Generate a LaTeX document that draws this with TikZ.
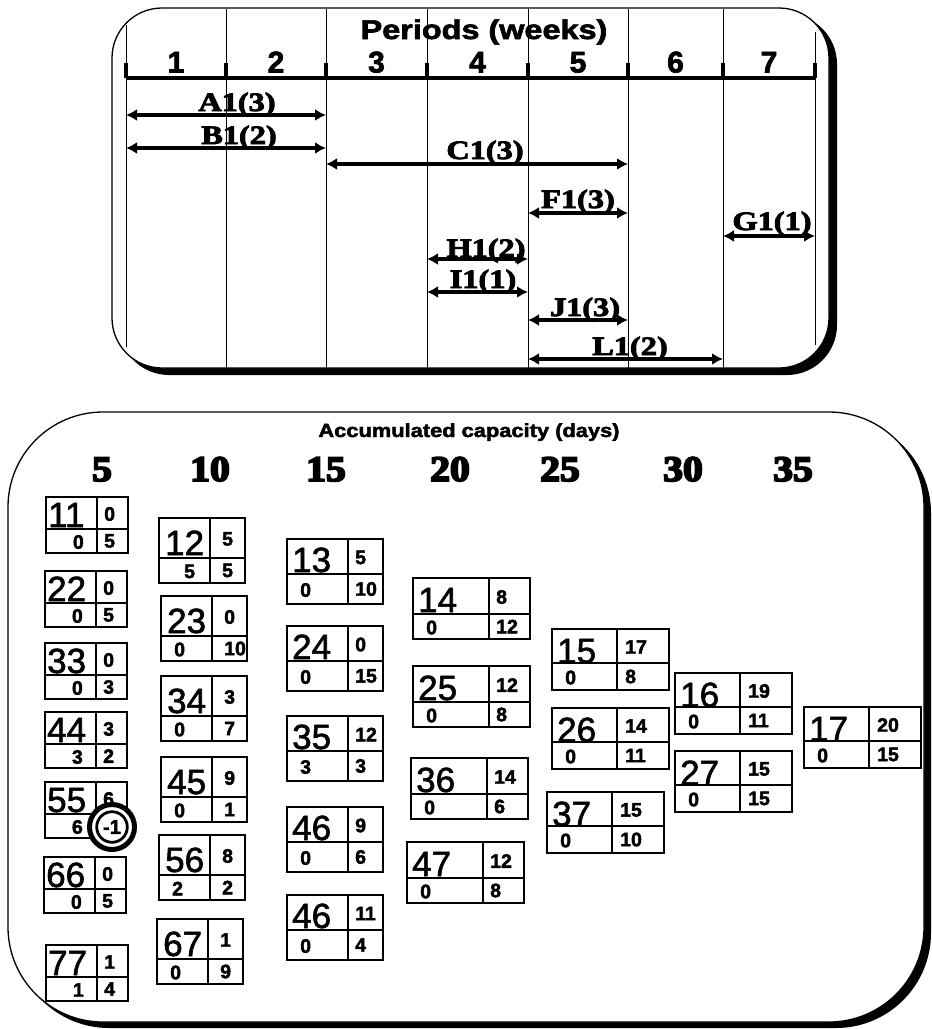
\documentclass[tikz,border=0pt]{standalone}
\usepackage{fontspec}
\newfontfamily\arialfont{Liberation Sans}[FakeBold=1.6]
\newfontfamily\arialbold{Liberation Sans Bold}[FakeBold=2.2]
\newfontfamily\timesbold{Liberation Serif Bold}[FakeBold=3]
\newfontfamily\timesheavy{Liberation Serif Bold}[FakeBold=5]
\usetikzlibrary{calc,arrows.meta}

\tikzset{
  frame/.style={draw=black, fill=white, line width=1.3pt},
  grid/.style={line width=1pt},
  axis/.style={line width=4pt},
  tick/.style={line width=3.2pt},
  task/.style={{Latex[length=11pt,width=12pt]}-{Latex[length=11pt,width=12pt]}, line width=3.4pt},
  tasklbl/.style={font=\timesbold\fontsize{26.5}{26.5}\selectfont, inner sep=0pt, anchor=base, xscale=1.22},
  weeknum/.style={font=\arialbold\fontsize{30}{30}\selectfont, inner sep=0pt, anchor=base},
  title/.style={font=\arialbold\fontsize{27}{27}\selectfont, inner sep=0pt, anchor=base, xscale=1.2},
  subtitle/.style={font=\arialbold\fontsize{19}{19}\selectfont, inner sep=0pt, anchor=base, xscale=1.15},
  caphead/.style={font=\timesheavy\fontsize{36}{36}\selectfont, inner sep=0pt, anchor=base, xscale=1.1},
  boxline/.style={line width=1.3pt},
  bignum/.style={font=\arialfont\fontsize{35}{35}\selectfont, inner sep=0pt, anchor=base west},
  smallnum/.style={font=\arialbold\fontsize{19.5}{19.5}\selectfont, inner sep=0pt},
  ring/.style={circle, draw, line width=2.8pt, fill=white, minimum size=30.6pt, inner sep=0pt,
    font=\arialbold\fontsize{20}{20}\selectfont},
}

% capacity box: #1 name, #2 left, #3 top, #4 big number, #5 top right, #6 bottom left, #7 bottom right
\newcommand{\capbox}[7]{%
  \draw[boxline] (#2,#3) rectangle ({#2+\boxw},{#3+\toph+\both});
  \draw[boxline] (#2,{#3+\toph}) -- ({#2+\boxw},{#3+\toph});
  \draw[boxline] ({#2+\splitx},#3) -- ({#2+\splitx},{#3+\toph+\both});
  \node[bignum] (#1big) at ({#2+\bigx},{#3+\toph-\bigdrop}) {#4};
  \node[smallnum, anchor=west] (#1tr) at ({#2+\splitx+\troff},{#3+\toph/2+1}) {#5};
  \node[smallnum, anchor=\blanc] (#1bl) at ({#2+\blx},{#3+\toph+\both/2+1}) {#6};
  \node[smallnum, anchor=west] (#1br) at ({#2+\splitx+\troff},{#3+\toph+\both/2}) {#7};
}

\begin{document}
\begin{tikzpicture}[x=1pt,y=-1pt]

    \useasboundingbox (0,0) rectangle (932,1029);

    % ---------------- periods panel ----------------
    \fill[rounded corners=50pt] (119,14) rectangle (837,375);
    \path[frame, rounded corners=50pt] (112,8) rectangle (829,368);

    % week borders
    \foreach \i/\x in {0/126,1/226,2/326,3/427,4/528,5/628,6/723,7/815}
        \coordinate (v\i) at (\x,78);

    \foreach \i in {1,...,6}
        \draw[grid] (v\i |- 0,9) -- (v\i |- 0,368);
    \draw[grid] (v0 |- 0,25) -- (v0 |- 0,347);
    \draw[grid] (v7 |- 0,32) -- (v7 |- 0,345);

    % time axis
    \draw[axis] (v0) -- (v7);
    \foreach \i in {0,...,7}
        \draw[tick] (v\i) -- ++(0,-15);

    \node[title] (periods) at (484,39) {Periods (weeks)};
    \foreach \a/\b in {0/1,1/2,2/3,3/4,4/5,5/6,6/7}
        \node[weeknum] (wk\b) at ($(v\a)!0.5!(v\b) + (0,-5.5)$) {\b};

    % activities
    \draw[task] (v0 |- 0,115) -- (v2 |- 0,115);
    \draw[task] (v0 |- 0,148) -- (v2 |- 0,148);
    \draw[task] (v2 |- 0,164) -- (v5 |- 0,164);
    \draw[task] (v4 |- 0,213) -- (v5 |- 0,213);
    \draw[task] (v6 |- 0,236) -- (v7 |- 0,236);
    \draw[task] (v3 |- 0,259) -- (v4 |- 0,259);
    \draw[task] (v3 |- 0,292) -- (v4 |- 0,292);
    \draw[task] (v4 |- 0,320) -- (v5 |- 0,320);
    \draw[task] (v4 |- 0,359) -- (v6 |- 0,359);

    \node[tasklbl] (lblA) at (237,111) {A1(3)};
    \node[tasklbl] (lblB) at (239,144) {B1(2)};
    \node[tasklbl] (lblC) at (485,159) {C1(3)};
    \node[tasklbl] (lblF) at (578,208) {F1(3)};
    \node[tasklbl] (lblG) at (772,230) {G1(1)};
    \node[tasklbl] (lblH) at (486,257) {H1(2)};
    \node[tasklbl] (lblI) at (483,288) {I1(1)};
    \node[tasklbl] (lblJ) at (585,316) {J1(3)};
    \node[tasklbl] (lblL) at (630,355) {L1(2)};

    % ---------------- capacity panel ----------------
    \fill[rounded corners=95pt] (14,418) rectangle (931,1028);
    \path[frame, rounded corners=95pt] (8,412) rectangle (924,1022);

    \node[subtitle] (acc) at (469,437) {Accumulated capacity (days)};
    \foreach \x/\d in {102/5,210/10,326/15,450/20,560/25,683/30,793/35}
        \node[caphead] (cap\d) at (\x,481) {\d};

    % column 5
    \def\boxw{82}\def\splitx{51}\def\toph{32}\def\both{24}
    \def\bigx{2}\def\bigdrop{2}\def\troff{7}\def\blanc{east}\def\blx{38}
    \capbox{b11}{46}{497}{11}{0}{0}{5}
    \capbox{b22}{45}{571}{22}{0}{0}{5}
    \capbox{b33}{45}{643}{33}{0}{0}{3}
    \capbox{b44}{45}{712}{44}{3}{3}{2}
    \capbox{b55}{45}{782}{55}{6}{6}{}
    \capbox{b66}{44}{857}{66}{0}{0}{5}
    \capbox{b77}{46}{945}{77}{1}{1}{4}

    % column 10
    \def\boxw{86}\def\splitx{51}\def\toph{40}\def\both{25}
    \def\bigx{6}\def\bigdrop{3}\def\troff{12}\def\blanc{west}\def\blx{25}
    \capbox{b12}{159}{518}{12}{5}{5}{5}
    \def\blx{13}
    \capbox{b23}{161}{596}{23}{0}{0}{10}
    \capbox{b34}{161}{676}{34}{3}{0}{7}
    \capbox{b45}{161}{757}{45}{9}{0}{1}
    \capbox{b56}{159}{835}{56}{8}{2}{2}
    \capbox{b67}{157}{919}{67}{1}{0}{9}

    % column 15
    \def\boxw{96}\def\splitx{61}\def\toph{35}\def\both{30}
    \def\bigx{5}\def\bigdrop{2}\def\troff{7}
    \capbox{b13}{287}{539}{13}{5}{0}{10}
    \capbox{b24}{287}{626}{24}{0}{0}{15}
    \capbox{b35}{287}{716}{35}{12}{3}{3}
    \capbox{b46a}{287}{807}{46}{9}{0}{6}
    \capbox{b46b}{287}{895}{46}{11}{0}{4}

    % column 20
    \def\boxw{117}\def\splitx{76}\def\toph{36}\def\both{25}
    \capbox{b14}{413}{578}{14}{8}{0}{12}
    \capbox{b25}{413}{666}{25}{12}{0}{8}
    \capbox{b36}{411}{758}{36}{14}{0}{6}
    \capbox{b47}{407}{842}{47}{12}{0}{8}

    % columns 25, 30, 35
    \def\boxw{117}\def\splitx{65}\def\toph{34}\def\both{27}
    \def\bigdrop{0}\def\troff{8}
    \capbox{b15}{552}{629}{15}{17}{0}{8}
    \capbox{b26}{552}{708}{26}{14}{0}{11}
    \capbox{b37}{547}{792}{37}{15}{0}{10}
    \capbox{b16}{675}{673}{16}{19}{0}{11}
    \capbox{b27}{675}{751}{27}{15}{0}{15}
    \capbox{b17}{804}{707}{17}{20}{0}{15}

    % overload mark
    \coordinate (negpos) at (112,827);
    \filldraw[fill=white, line width=5pt] (negpos) circle (22.5);
    \node[ring] (neg) at (negpos) {-1};

\end{tikzpicture}
\end{document}
